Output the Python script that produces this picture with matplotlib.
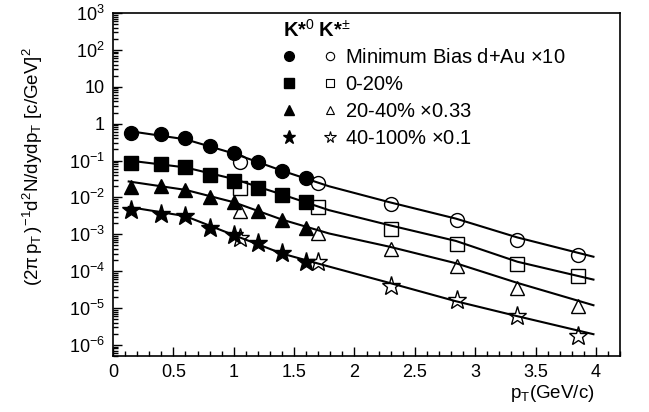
import matplotlib
matplotlib.use('Agg')
import matplotlib.pyplot as plt
from matplotlib.lines import Line2D
from matplotlib.legend_handler import HandlerTuple
from matplotlib.ticker import FixedLocator, FixedFormatter, MultipleLocator, LogLocator, NullFormatter

plt.rcParams['font.family'] = ['Liberation Sans', 'DejaVu Sans']
plt.rcParams['mathtext.fontset'] = 'custom'
plt.rcParams['mathtext.rm'] = 'Liberation Sans'
plt.rcParams['mathtext.it'] = 'Liberation Sans:italic'
plt.rcParams['mathtext.bf'] = 'Liberation Sans:bold'
plt.rcParams['mathtext.default'] = 'regular'

# K*0 (filled) pT bins
pt_k0 = [0.15, 0.4, 0.6, 0.8, 1.0, 1.2, 1.4, 1.6]
mb_k0 = [0.57, 0.51, 0.40, 0.247, 0.162, 0.093, 0.053, 0.033]
c020_k0 = [0.085, 0.080, 0.065, 0.041, 0.028, 0.018, 0.0117, 0.0075]
c2040_k0 = [0.0196, 0.020, 0.0154, 0.0102, 0.0074, 0.0042, 0.0024, 0.00144]
c40100_k0 = [0.0045, 0.0036, 0.0031, 0.00149, 9.5e-4, 5.7e-4, 3.2e-4, 1.8e-4]

# K*+- (open) pT bins
pt_kc = [1.05, 1.7, 2.3, 2.85, 3.35, 3.85]
mb_kc = [0.094, 0.025, 0.0067, 0.0024, 7.2e-4, 2.7e-4]
c020_kc = [0.018, 0.0055, 0.00138, 5.6e-4, 1.55e-4, 7.6e-5]
c2040_kc = [0.0042, 0.00105, 4.0e-4, 1.4e-4, 3.6e-5, 1.1e-5]
c40100_kc = [7.7e-4, 1.74e-4, 4.0e-5, 1.6e-5, 6.0e-6, 1.7e-6]

# fit curves
pt_fit = [0.13, 0.6, 1.0, 1.4, 1.79, 2.29, 2.84, 3.35, 3.98]
mb_fit = [0.63, 0.376, 0.155, 0.053, 0.020, 0.0074, 0.00266, 8.2e-4, 2.46e-4]
c020_fit = [0.10, 0.065, 0.0316, 0.012, 0.0045, 0.00176, 6.6e-4, 1.8e-4, 5.9e-5]
c2040_fit = [0.027, 0.016, 0.0074, 0.0025, 1.05e-3, 4.6e-4, 1.64e-4, 4.8e-5, 1.19e-5]
c40100_fit = [0.0055, 0.0031, 9.5e-4, 3.0e-4, 1.33e-4, 4.8e-5, 1.53e-5, 6.0e-6, 1.95e-6]

labels = [r'Minimum Bias d+Au $\times$10', '0-20%', r'20-40% $\times$0.33', r'40-100% $\times$0.1']
markers = ['o', 's', '^', '*']
msizes = [10, 9.5, 10, 14]

x_ticks = [0, 0.5, 1, 1.5, 2, 2.5, 3, 3.5, 4]
x_ticklabels = ['0', '0.5', '1', '1.5', '2', '2.5', '3', '3.5', '4']
y_ticks = [1e-6, 1e-5, 1e-4, 1e-3, 1e-2, 1e-1, 1, 10, 1e2, 1e3]
y_ticklabels = [r'$10^{-6}$', r'$10^{-5}$', r'$10^{-4}$', r'$10^{-3}$', r'$10^{-2}$',
                r'$10^{-1}$', '1', '10', r'$10^{2}$', r'$10^{3}$']

fig = plt.figure(figsize=(6.49, 4.12), dpi=100)
ax = fig.add_axes([113/649, 1 - 356/412, 507/649, 343/412])

k0_sets = [mb_k0, c020_k0, c2040_k0, c40100_k0]
kc_sets = [mb_kc, c020_kc, c2040_kc, c40100_kc]
fit_sets = [mb_fit, c020_fit, c2040_fit, c40100_fit]

handles = []
for k0, kc, fit, m, ms in zip(k0_sets, kc_sets, fit_sets, markers, msizes):
    ax.plot(pt_fit, fit, '-', color='black', lw=1.5, zorder=2)
    ax.plot(pt_k0, k0, linestyle='none', marker=m, ms=ms, color='black', zorder=3)
    ax.plot(pt_kc, kc, linestyle='none', marker=m, ms=ms, mfc='none', mec='black',
            mew=1.0, zorder=4)
    h1 = Line2D([], [], linestyle='none', marker=m, ms=ms * 0.7, color='black')
    h2 = Line2D([], [], linestyle='none', marker=m, ms=ms * 0.6, mfc='none', mec='black', mew=0.8)
    handles.append((h1, h2))

ax.set_yscale('log')
ax.set_xlim(0, 4.2)
ax.set_ylim(5e-7, 1e3)

ax.xaxis.set_major_locator(FixedLocator(x_ticks))
ax.xaxis.set_major_formatter(FixedFormatter(x_ticklabels))
ax.xaxis.set_minor_locator(MultipleLocator(0.1))
ax.yaxis.set_major_locator(FixedLocator(y_ticks))
ax.yaxis.set_major_formatter(FixedFormatter(y_ticklabels))
ax.yaxis.set_minor_locator(LogLocator(base=10, subs=range(2, 10), numticks=20))
ax.yaxis.set_minor_formatter(NullFormatter())

ax.tick_params(which='both', direction='in', top=False, right=False, labelsize=13, width=1)
ax.tick_params(which='major', length=6.5, pad=6)
ax.tick_params(which='minor', length=3.5)
for s in ax.spines.values():
    s.set_linewidth(1.2)

leg = ax.legend(handles, labels, handler_map={tuple: HandlerTuple(ndivide=None, pad=1.3)},
                loc='upper left', bbox_to_anchor=(0.331, 0.897), frameon=False,
                fontsize=14.5, handlelength=2.84, handletextpad=0.35, labelspacing=0.4,
                borderpad=0, borderaxespad=0)

ax.text(0.335, 0.95, r'$\mathbf{K{*}}^{0}\;\mathbf{K{*}}^{\pm}$', transform=ax.transAxes,
        fontsize=14.5, ha='left', va='center')

fig.text(33/649, 1 - 47/412, r'$(2\pi\, p_{T}\,)^{-1} d^{2}N/dydp_{T}$ [c/GeV]$^{2}$',
         rotation=90, ha='center', va='top', fontsize=13.5)
fig.text(595/649, 1 - 393/412, r'p$_{T}$(GeV/c)', ha='right', va='center', fontsize=13.5)

fig.savefig('out.png', dpi=100)
